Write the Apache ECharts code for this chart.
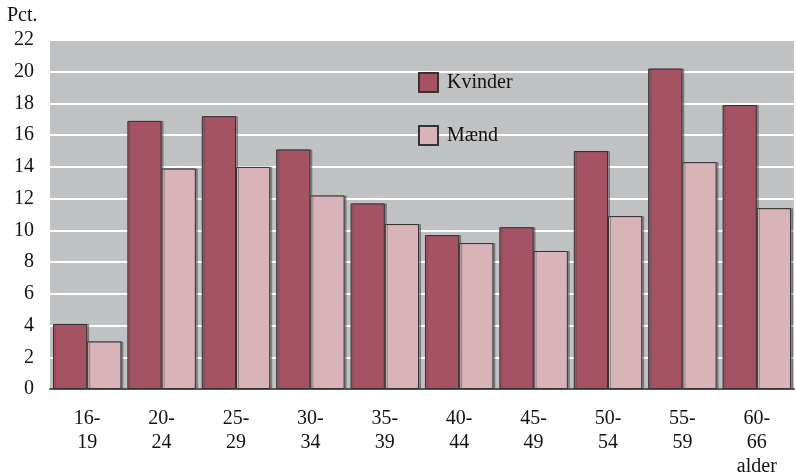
<!DOCTYPE html>
<html>
<head>
<meta charset="utf-8">
<script src="https://cdn.jsdelivr.net/npm/echarts@6/dist/echarts.min.js"></script>
<style>
  html, body { margin: 0; padding: 0; background: #fff; }
  #main { width: 796px; height: 474px; }
</style>
</head>
<body>
<div id="main"></div>
<script>
// aldersgrupper og andele (pct.)
var categories = ['16-\n19', '20-\n24', '25-\n29', '30-\n34', '35-\n39', '40-\n44', '45-\n49', '50-\n54', '55-\n59', '60-\n66\nalder'];
var kvinder = [4.1, 16.9, 17.2, 15.1, 11.7, 9.7, 10.2, 15.0, 20.2, 17.9];
var maend = [3.0, 13.9, 14.0, 12.2, 10.4, 9.2, 8.7, 10.9, 14.3, 11.4];

var font = '"Liberation Serif", "Times New Roman", serif';
var myChart = echarts.init(document.getElementById('main'));

var barStyle = function (color) {
    return {
        color: color,
        borderColor: '#333',
        borderWidth: 1,
        shadowColor: 'rgba(80,80,80,0.5)',
        shadowOffsetX: 2,
        shadowOffsetY: 0,
        shadowBlur: 0
    };
};

option = {
    animation: false,
    textStyle: { fontFamily: font },
    grid: {
        left: 50,
        right: 2,
        top: 40,
        bottom: 85,
        outerBoundsMode: 'none',
        containLabel: false,
        show: true,
        backgroundColor: '#c0c1c3',
        borderWidth: 0
    },
    graphic: [{
        type: 'text',
        left: 7,
        top: 6,
        style: { text: 'Pct.', fontSize: 20, fontFamily: font, fill: '#111' }
    }],
    legend: {
        orient: 'vertical',
        left: 413,
        top: 67,
        itemWidth: 19,
        itemHeight: 19,
        itemGap: 32,
        icon: 'rect',
        textStyle: { fontSize: 20, fontFamily: font, color: '#111', padding: [0, 0, 0, 4] },
        data: ['Kvinder', 'Mænd']
    },
    xAxis: {
        type: 'category',
        data: categories,
        axisLine: { lineStyle: { color: '#555', width: 2 } },
        axisTick: { show: false },
        axisLabel: {
            color: '#111',
            fontSize: 20,
            fontFamily: font,
            margin: 18,
            lineHeight: 24
        }
    },
    yAxis: {
        type: 'value',
        min: 0,
        max: 22,
        interval: 2,
        axisLine: { show: false },
        axisTick: { show: false },
        axisLabel: { color: '#111', fontSize: 20, fontFamily: font, margin: 16 },
        splitLine: { lineStyle: { color: '#ffffff', width: 2 } }
    },
    series: [
        {
            name: 'Kvinder',
            type: 'bar',
            data: kvinder,
            barGap: '0%',
            barCategoryGap: '8%',
            itemStyle: barStyle('#a55262')
        },
        {
            name: 'Mænd',
            type: 'bar',
            data: maend,
            itemStyle: barStyle('#d8b3b8')
        }
    ]
};
myChart.setOption(option);
</script>
</body>
</html>
